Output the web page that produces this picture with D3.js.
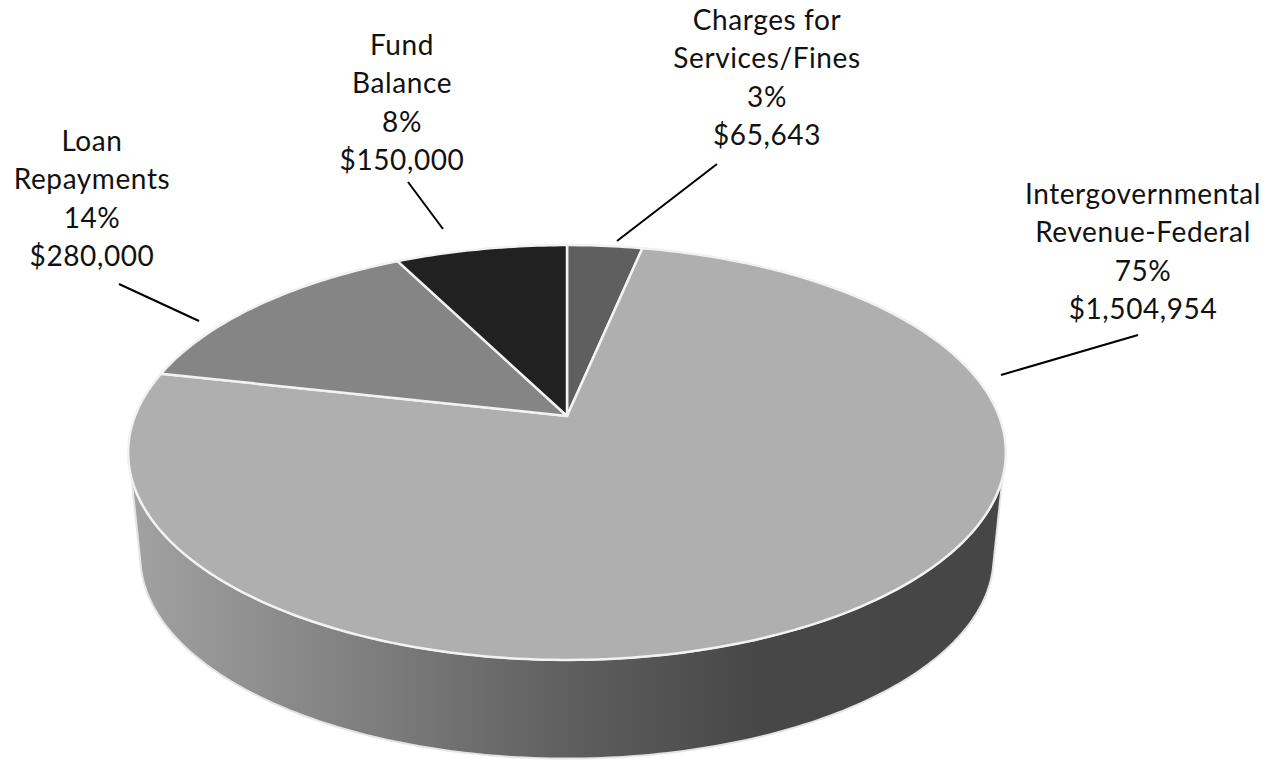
<!DOCTYPE html>
<html>
<head>
<meta charset="utf-8">
<title>revenue pie</title>
<script src="https://d3js.org/d3.v7.min.js"></script>
<style>
  html, body { margin: 0; background: #fff; }
  text { font-family: Lato, sans-serif; font-size: 28px; letter-spacing: 0.6px; fill: #111; text-anchor: middle; }
</style>
</head>
<body>
<svg id="chart" width="1272" height="760"></svg>
<script>
// clockwise from 12 o'clock
const categories = ["Charges for Services/Fines", "Intergovernmental Revenue-Federal", "Loan Repayments", "Fund Balance"];
const labelLines = [["Charges for", "Services/Fines"], ["Intergovernmental", "Revenue-Federal"], ["Loan", "Repayments"], ["Fund", "Balance"]];
const amounts = [65643, 1504954, 280000, 150000];
const percents = ["3%", "75%", "14%", "8%"];
const sliceColors = ["#5f5f5f", "#afafaf", "#858585", "#212121"];

const svg = d3.select("#chart");

// layout of the tilted disc
const cx = 567, apexY = 416;
const persp = -0.176, radX = 432, radY = 201;
const depth = 105.5, bottomScale = 0.972;

// label placement: centre x, first baseline, leader line
const labelPos = [
  { x: 767, y: 30, leader: [[717, 164], [617, 241]] },
  { x: 1143, y: 204, leader: [[1138, 335], [1001, 375]] },
  { x: 92, y: 151, leader: [[119, 284], [199, 321]] },
  { x: 402, y: 55, leader: [[408, 182], [443, 229]] }
];
const lineStep = 38.4;

// angle on the flat pie -> screen point, z=0 top face, z=1 bottom face
function project(a, z) {
  const u = Math.sin(a), v = -Math.cos(a);
  const w = 1 + persp * v;
  const s = z ? bottomScale : 1;
  return [cx + s * radX * u / w, apexY + (z ? depth : 0) + s * radY * v / w];
}

function arcPoints(a0, a1, z) {
  const n = Math.max(2, Math.ceil(Math.abs(a1 - a0) * 60));
  return d3.range(n + 1).map(i => project(a0 + (a1 - a0) * i / n, z));
}

const line = d3.line();
const slices = d3.pie().sort(null)(amounts);

const grad = svg.append("defs").append("linearGradient")
  .attr("id", "wall").attr("gradientUnits", "userSpaceOnUse")
  .attr("x1", 130).attr("x2", 1005).attr("y1", 0).attr("y2", 0);
grad.selectAll("stop")
  .data([[0, "#a2a2a2"], [0.29, "#7c7c7c"], [0.5, "#5f5f5f"], [0.72, "#474747"], [1, "#464646"]])
  .join("stop")
  .attr("offset", d => d[0])
  .attr("stop-color", d => d[1]);

// the wall, between the silhouette tangents of both faces
const topTangent = 107 * Math.PI / 180, bottomTangent = 103 * Math.PI / 180;
svg.append("path")
  .attr("d", line(arcPoints(2 * Math.PI - topTangent, topTangent, 0)
    .concat(arcPoints(bottomTangent, 2 * Math.PI - bottomTangent, 1))) + "Z")
  .attr("fill", "url(#wall)")
  .attr("stroke", "#e4e4e4")
  .attr("stroke-width", 2);

// top face
svg.append("g").selectAll("path")
  .data(slices)
  .join("path")
  .attr("d", d => line([[cx, apexY]].concat(arcPoints(d.startAngle, d.endAngle, 0))) + "Z")
  .attr("fill", (d, i) => sliceColors[i])
  .attr("stroke", "#f2f2f2")
  .attr("stroke-width", 2.5)
  .attr("stroke-linejoin", "round");

// labels
const labels = svg.append("g").selectAll("g")
  .data(categories)
  .join("g");

labels.each(function (c, i) {
  const rows = labelLines[i].concat(percents[i], d3.format("$,")(amounts[i]));
  d3.select(this).selectAll("text")
    .data(rows)
    .join("text")
    .attr("x", labelPos[i].x)
    .attr("y", (d, j) => labelPos[i].y + j * lineStep)
    .text(d => d);
});

labels.append("path")
  .attr("d", (c, i) => line(labelPos[i].leader))
  .attr("fill", "none")
  .attr("stroke", "#000")
  .attr("stroke-width", 2);
</script>
</body>
</html>
